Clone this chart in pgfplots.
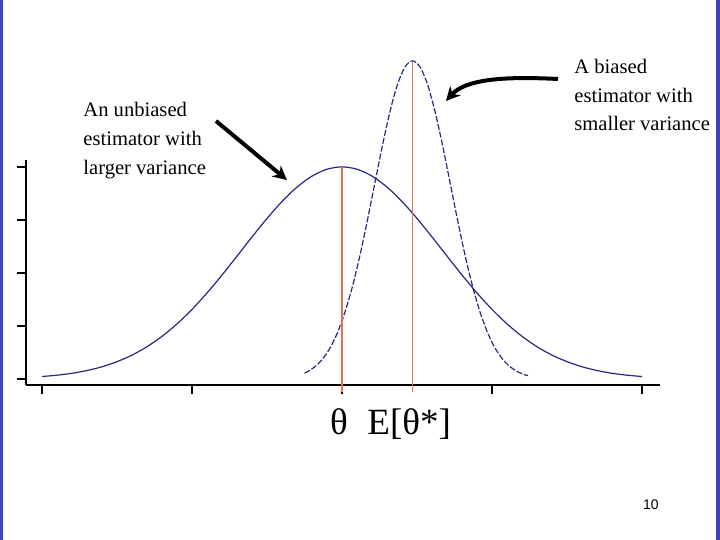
\documentclass[border=0pt]{standalone}
\usepackage{fontspec}
\setmainfont{Liberation Serif}
\newfontfamily\numfont{Liberation Sans}
\usepackage{pgfplots}
\pgfplotsset{compat=1.18}
\usetikzlibrary{arrows.meta}

\definecolor{curveblue}{RGB}{40,40,130}
\definecolor{meanline}{RGB}{232,112,80}
\definecolor{frameblue}{RGB}{64,64,192}

\begin{document}
\begin{tikzpicture}
% page, in pixels of a 720x540 slide (y downwards)
\begin{scope}[x=0.5pt,y=-0.5pt]
  \fill[white] (0,0) rectangle (720,540);
  \fill[frameblue] (0,0) rectangle (3,540);
  \fill[frameblue] (716,0) rectangle (720,540);
\end{scope}

\begin{axis}[
  at={(13pt,-192.5pt)}, anchor=south west,
  scale only axis, width=317pt, height=112.5pt,
  xmin=-2.107, xmax=2.12, ymin=-0.113, ymax=4.13,
  clip=false,
  axis x line*=bottom, axis y line*=left,
  axis line style={black, line width=1pt, -},
  xtick={-2,-1,0,1,2}, ytick={0,1,2,3,4},
  xticklabels={}, yticklabels={},
  tick align=outside, major tick length=4.5pt,
  tick style={black, line width=0.8pt},
]
% unbiased estimator, larger variance
\addplot[curveblue, line width=0.6pt, smooth] coordinates {
  (-2.0,0.047)(-1.9,0.072)(-1.8,0.108)(-1.7,0.160)(-1.6,0.231)(-1.5,0.327)
  (-1.4,0.451)(-1.3,0.609)(-1.2,0.805)(-1.1,1.040)(-1.0,1.313)(-0.9,1.623)
  (-0.8,1.961)(-0.7,2.318)(-0.6,2.679)(-0.5,3.028)(-0.4,3.347)(-0.3,3.619)
  (-0.2,3.826)(-0.1,3.956)(0,4.000)(0.1,3.956)(0.2,3.826)(0.3,3.619)
  (0.4,3.347)(0.5,3.028)(0.6,2.679)(0.7,2.318)(0.8,1.961)(0.9,1.623)
  (1.0,1.313)(1.1,1.040)(1.2,0.805)(1.3,0.609)(1.4,0.451)(1.5,0.327)
  (1.6,0.231)(1.7,0.160)(1.8,0.108)(1.9,0.072)(2.0,0.047)};
% biased estimator, smaller variance
\addplot[curveblue, line width=0.6pt, smooth, dash pattern=on 3pt off 1pt] coordinates {
  (-0.25,0.111)(-0.23,0.138)(-0.18,0.233)(-0.13,0.376)(-0.08,0.585)(-0.03,0.877)
  (0.02,1.264)(0.07,1.752)(0.12,2.338)(0.17,3.002)(0.22,3.710)(0.27,4.411)
  (0.32,5.046)(0.37,5.556)(0.42,5.886)(0.47,6.000)(0.52,5.886)(0.57,5.556)
  (0.62,5.046)(0.67,4.411)(0.72,3.710)(0.77,3.002)(0.82,2.338)(0.87,1.752)
  (0.92,1.264)(0.97,0.877)(1.02,0.585)(1.07,0.376)(1.12,0.233)(1.17,0.138)
  (1.22,0.079)(1.24,0.063)};
% means
\addplot[meanline, line width=0.7pt] coordinates {(0,-0.25)(0,4.0)};
\addplot[meanline, line width=0.7pt] coordinates {(0.47,-0.25)(0.47,6.0)};
\end{axis}

\begin{scope}[x=0.5pt,y=-0.5pt]
  \begin{scope}[every node/.style={inner sep=0pt, font=\fontsize{10.3}{14}\selectfont}]
    \node[anchor=base west] at (83,117) {An unbiased};
    \node[anchor=base west] at (83,146) {estimator with};
    \node[anchor=base west] at (83,175) {larger variance};
    \node[anchor=base west] at (574,74) {A biased};
    \node[anchor=base west] at (574,103) {estimator with};
    \node[anchor=base west] at (574,131) {smaller variance};
  \end{scope}
  \draw[line width=2pt, -{Stealth[length=7pt,width=7pt]}] (216,121) -- (287,180);
  \draw[line width=2pt, -{Stealth[length=7pt,width=7pt]}]
    (558,79) .. controls (500,76) and (465,80) .. (446,101);
  \node[anchor=base, inner sep=0pt, font=\fontsize{18.5}{20}\selectfont] at (339,435) {θ};
  \node[anchor=base west, inner sep=0pt, font=\fontsize{18.5}{20}\selectfont] at (367,435) {E[θ*]};
  \node[anchor=base, inner sep=0pt, font=\numfont\fontsize{7}{8}\selectfont] at (651,510) {10};
\end{scope}
\end{tikzpicture}
\end{document}
